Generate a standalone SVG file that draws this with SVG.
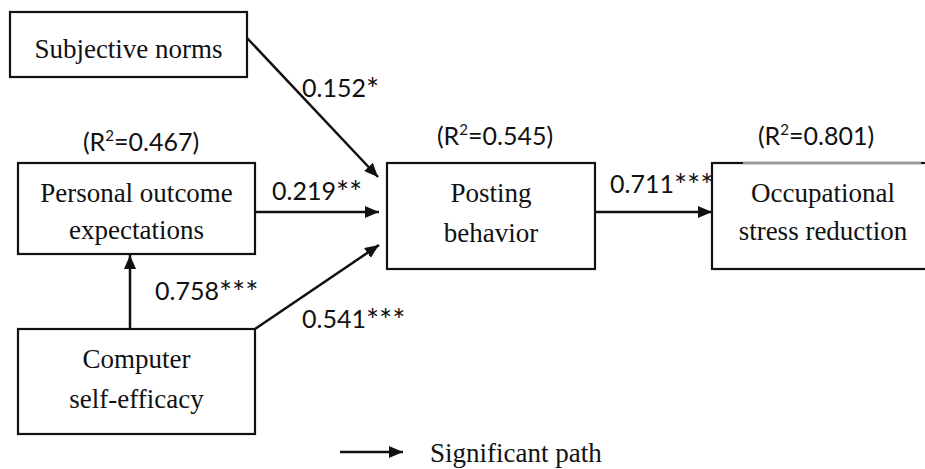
<svg xmlns="http://www.w3.org/2000/svg" width="925" height="469" viewBox="0 0 925 469">
  <style>
    .box { fill: #fff; stroke: #111; stroke-width: 2.2; }
    .lbl { font-family: "Liberation Serif", "Times New Roman", serif; font-size: 27px; fill: #111; text-anchor: middle; }
    .coef { font-family: Lato, "Liberation Sans", sans-serif; font-size: 25px; fill: #111; }
    .star { font-size: 31px; }
    .r2 { font-family: Lato, "Liberation Sans", sans-serif; font-size: 25px; fill: #111; text-anchor: middle; }
    .edge { fill: none; stroke: #111; stroke-width: 2.5; marker-end: url(#arrow); }
  </style>
  <defs>
    <marker id="arrow" viewBox="0 0 14 12" refX="14" refY="6" markerWidth="14" markerHeight="12" markerUnits="userSpaceOnUse" orient="auto">
      <path d="M0,0 L14,6 L0,12 Z" fill="#111"/>
    </marker>
  </defs>
  <rect width="925" height="469" fill="#fff"/>

  <!-- path connectors with their coefficients -->
  <g id="connectors">
    <line class="edge" x1="247" y1="38" x2="378" y2="177"/>
    <line class="edge" x1="255" y1="212" x2="379" y2="212"/>
    <line class="edge" x1="255" y1="329" x2="379" y2="245"/>
    <line class="edge" x1="130" y1="329" x2="130" y2="255"/>
    <line class="edge" x1="595" y1="212" x2="712" y2="212"/>
    <text class="coef" x="302" y="97">0.152<tspan class="star" dy="3">*</tspan></text>
    <text class="coef" x="272" y="200">0.219<tspan class="star" dy="3">**</tspan></text>
    <text class="coef" x="155" y="300">0.758<tspan class="star" dy="3">***</tspan></text>
    <text class="coef" x="302" y="328">0.541<tspan class="star" dy="3">***</tspan></text>
    <text class="coef" x="610" y="193">0.711<tspan class="star" dy="3">***</tspan></text>
  </g>

  <g id="subjective-norms">
    <rect class="box" x="10" y="12" width="237" height="65"/>
    <text class="lbl" x="128.5" y="58">Subjective norms</text>
  </g>

  <g id="personal-outcome-expectations">
    <text class="r2" x="141" y="151">(R<tspan dy="-10" font-size="15">2</tspan><tspan dy="10">=0.467)</tspan></text>
    <rect class="box" x="18" y="163" width="237" height="91"/>
    <text class="lbl" x="136.5" y="202">Personal outcome</text>
    <text class="lbl" x="136.5" y="239">expectations</text>
  </g>

  <g id="computer-self-efficacy">
    <rect class="box" x="18" y="329" width="237" height="105"/>
    <text class="lbl" x="136.5" y="368">Computer</text>
    <text class="lbl" x="136.5" y="408">self-efficacy</text>
  </g>

  <g id="posting-behavior">
    <text class="r2" x="495" y="145">(R<tspan dy="-10" font-size="15">2</tspan><tspan dy="10">=0.545)</tspan></text>
    <rect class="box" x="387" y="163" width="208" height="106"/>
    <text class="lbl" x="491" y="202">Posting</text>
    <text class="lbl" x="491" y="242">behavior</text>
  </g>

  <g id="occupational-stress-reduction">
    <text class="r2" x="816" y="145">(R<tspan dy="-10" font-size="15">2</tspan><tspan dy="10">=0.801)</tspan></text>
    <rect class="box" x="712" y="163" width="240" height="106"/>
    <line x1="743" y1="163" x2="921" y2="163" stroke="#999" stroke-width="2.4"/>
    <text class="lbl" x="823" y="202">Occupational</text>
    <text class="lbl" x="823" y="240">stress reduction</text>
  </g>

  <g id="legend">
    <line class="edge" x1="340" y1="452" x2="403" y2="452"/>
    <text class="lbl" x="430" y="462" style="text-anchor:start">Significant path</text>
  </g>
</svg>
